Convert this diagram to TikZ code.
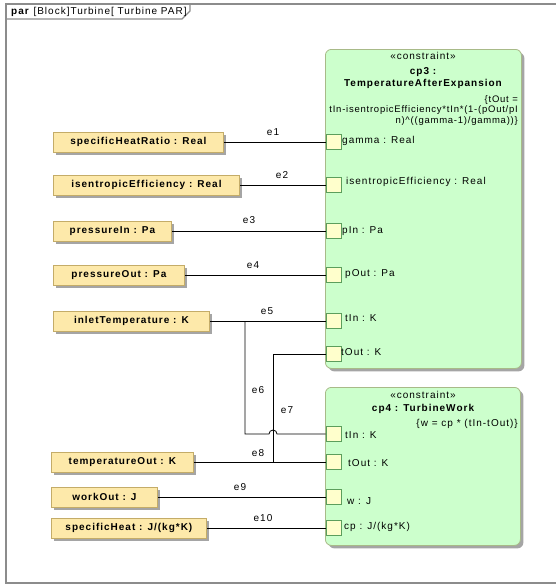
\documentclass[tikz,border=0pt]{standalone}
\usepackage{fontspec}
\usetikzlibrary{shadows}
\newfontfamily\diagfont{Liberation Sans}[LetterSpace=10]
\newfontfamily\eqfont{Liberation Sans}[LetterSpace=8]

\definecolor{instfill}{RGB}{253,233,170}
\definecolor{instline}{RGB}{196,172,104}
\definecolor{cfill}{RGB}{204,255,204}
\definecolor{cline}{RGB}{168,186,136}
\definecolor{portfill}{RGB}{255,255,204}
\definecolor{portline}{RGB}{92,158,92}
\definecolor{shadowgray}{RGB}{165,165,165}
\definecolor{framegray}{RGB}{140,140,140}

\tikzset{
  txt/.style={inner sep=0pt, font=\diagfont\fontsize{10}{11}\selectfont},
  txtb/.style={inner sep=0pt, font=\diagfont\bfseries\fontsize{10}{11}\selectfont},
  eqtxt/.style={inner sep=0pt, font=\eqfont\fontsize{9.5}{10.8}\selectfont},
  inst/.style={txtb, draw=instline, fill=instfill, line width=0.8pt,
    minimum height=20pt, anchor=west,
    drop shadow={shadow xshift=3pt, shadow yshift=-3pt, fill=shadowgray, opacity=1}},
  cbox/.style={draw=cline, fill=cfill, line width=0.8pt, rounded corners=6pt,
    anchor=north west, inner sep=0pt,
    drop shadow={shadow xshift=3pt, shadow yshift=-3pt, fill=shadowgray, opacity=1}},
  port/.style={draw=portline, fill=portfill, line width=0.8pt, minimum size=15pt, inner sep=0pt},
  plabel/.style={txt, anchor=west},
  elabel/.style={txt},
  wire/.style={draw=black, line width=0.8pt},
  framestyle/.style={draw=framegray, line width=1.2pt},
}

\begin{document}
\begin{tikzpicture}[x=1pt,y=-1pt]
\useasboundingbox (0,0) rectangle (555,584);

% diagram frame and its name tab
\draw[framestyle] (6,4) rectangle (562,583);
\draw[framestyle] (6,19) -- (182,19) -- (190,11) -- (190,4);
\node[txt, anchor=west] (title) at (11,12) {\textbf{par} [Block]Turbine[ Turbine PAR]};

% constraint property cp3
\node[cbox, minimum width=196pt, minimum height=319pt] (cp3) at (325,49) {};
\node[txt] (cp3st) at (423,56) {«constraint»};
\node[txtb] (cp3n1) at (423,72) {cp3 :};
\node[txtb] (cp3n2) at (423,84) {TemperatureAfterExpansion};
\node[eqtxt, anchor=north east, align=right] (cp3eq) at (518,95)
  {\{tOut =\\tIn-isentropicEfficiency*tIn*(1-(pOut/pI\\n)\textasciicircum((gamma-1)/gamma))\}};

% constraint property cp4
\node[cbox, minimum width=195pt, minimum height=158pt] (cp4) at (325,387) {};
\node[txt] (cp4st) at (423,395) {«constraint»};
\node[txtb] (cp4n) at (423,409) {cp4 : TurbineWork};
\node[txt, anchor=east] (cp4eq) at (518,424) {\{w = cp * (tIn-tOut)\}};

% parameters of cp3
\node[port] (p3gamma) at (333.5,142) {};
\node[port] (p3eff)   at (333.5,185) {};
\node[port] (p3pin)   at (333.5,231) {};
\node[port] (p3pout)  at (333.5,275) {};
\node[port] (p3tin)   at (333.5,321) {};
\node[port] (p3tout)  at (333.5,354) {};
\node[plabel] (l3gamma) at (342,141) {gamma : Real};
\node[plabel] (l3eff)   at (346,182) {isentropicEfficiency : Real};
\node[plabel] (l3pin)   at (342,231) {pIn : Pa};
\node[plabel] (l3pout)  at (345,274) {pOut : Pa};
\node[plabel] (l3tin)   at (345,318) {tIn : K};
\node[plabel] (l3tout)  at (341,352) {tOut : K};

% parameters of cp4
\node[port] (p4tin)  at (333.5,434) {};
\node[port] (p4tout) at (333.5,462) {};
\node[port] (p4w)    at (333.5,497) {};
\node[port] (p4cp)   at (333.5,528) {};
\node[plabel] (l4tin)  at (345,435) {tIn : K};
\node[plabel] (l4tout) at (348,463) {tOut : K};
\node[plabel] (l4w)    at (347,501) {w : J};
\node[plabel] (l4cp)   at (344,527) {cp : J/(kg*K)};

% value properties
\node[inst, minimum width=170pt] (shr)  at (53,142) {specificHeatRatio : Real};
\node[inst, minimum width=186pt] (ise)  at (53,185) {isentropicEfficiency : Real};
\node[inst, minimum width=118pt] (pin)  at (53,231) {pressureIn : Pa};
\node[inst, minimum width=131pt] (pout) at (53,275) {pressureOut : Pa};
\node[inst, minimum width=156pt] (tin)  at (53,321) {inletTemperature : K};
\node[inst, minimum width=142pt] (tout) at (51,462) {temperatureOut : K};
\node[inst, minimum width=106pt] (wout) at (51,497) {workOut : J};
\node[inst, minimum width=155pt] (shc)  at (51,528) {specificHeat : J/(kg*K)};

% junction points
\coordinate (j5) at (245,321);
\coordinate (j8) at (273,462);
\coordinate (hop) at (273,434);
\coordinate (c7) at (273,354);

% binding connectors
\draw[wire] (shr.east)  -- (p3gamma.west);
\draw[wire] (ise.east)  -- (p3eff.west);
\draw[wire] (pin.east)  -- (p3pin.west);
\draw[wire] (pout.east) -- (p3pout.west);
\draw[wire] (tin.east)  -- (p3tin.west);
\draw[wire] (j5) |- ([xshift=-4pt]hop) arc[start angle=180, end angle=0, radius=4pt] -- (p4tin.west);
\draw[wire] (p3tout.west) -- (c7) -- (j8);
\draw[wire] (tout.east) -- (p4tout.west);
\draw[wire] (wout.east) -- (p4w.west);
\draw[wire] (shc.east)  -- (p4cp.west);

% connector names
\node[elabel] (e1)  at (273,132) {e1};
\node[elabel] (e2)  at (282,175) {e2};
\node[elabel] (e3)  at (249,220) {e3};
\node[elabel] (e4)  at (253,265) {e4};
\node[elabel] (e5)  at (267,311) {e5};
\node[elabel] (e6)  at (258,390) {e6};
\node[elabel] (e7)  at (287,410) {e7};
\node[elabel] (e8)  at (258,453) {e8};
\node[elabel] (e9)  at (240,487) {e9};
\node[elabel] (e10) at (263,518) {e10};
\end{tikzpicture}
\end{document}
